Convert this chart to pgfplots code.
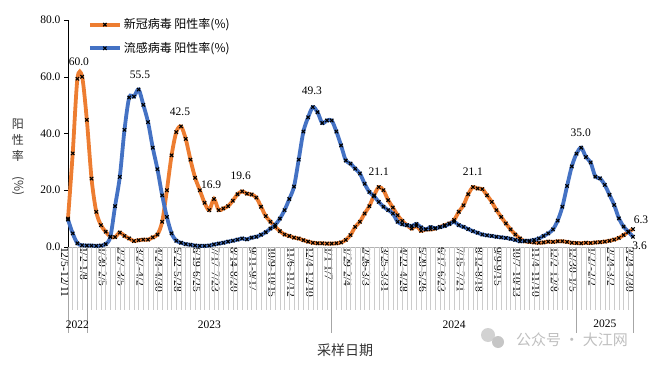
\documentclass[border=0pt]{standalone}
\usepackage{pgfplots}
\pgfplotsset{compat=1.18}
\usepackage{pgfplotstable}
\usepackage{fontspec}
\setmainfont{Liberation Serif}
\newfontfamily\cjk{Noto Sans CJK SC}
\definecolor{cov}{HTML}{ED7D31}
\definecolor{flu}{HTML}{4472C4}
\pgfplotstableread{
i cov flu
0 10.0 9.7
1 33.0 4.8
2 59.3 1.3
3 60.0 0.6
4 44.8 0.5
5 24.1 0.5
6 12.4 0.4
7 7.7 0.5
8 5.4 1.0
9 3.6 3.6
10 3.5 14.4
11 5.1 24.7
12 3.9 41.3
13 3.0 52.7
14 2.1 53.0
15 2.4 55.5
16 2.6 50.1
17 2.6 44.0
18 3.4 35.0
19 4.4 27.4
20 8.9 18.2
21 20.0 10.6
22 32.3 4.8
23 40.5 2.2
24 42.5 1.5
25 38.1 1.0
26 30.8 0.8
27 24.4 0.5
28 20.0 0.4
29 15.6 0.4
30 13.0 0.5
31 16.9 0.9
32 13.0 1.2
33 13.6 1.5
34 14.4 1.9
35 16.3 2.2
36 18.6 2.6
37 19.6 3.0
38 18.8 2.7
39 18.5 3.3
40 17.4 3.6
41 14.2 4.3
42 10.9 5.2
43 8.9 6.5
44 7.1 7.8
45 5.6 10.0
46 4.4 13.0
47 3.9 16.9
48 3.3 21.3
49 3.0 30.8
50 2.4 40.7
51 1.9 45.7
52 1.5 49.3
53 1.3 47.5
54 1.3 43.7
55 1.2 44.6
56 1.2 44.6
57 1.3 40.7
58 1.6 35.8
59 2.5 30.5
60 4.2 29.4
61 7.1 27.6
62 8.9 25.9
63 11.8 22.3
64 14.4 19.4
65 18.2 17.9
66 21.1 15.9
67 20.0 14.2
68 16.5 13.0
69 13.9 11.8
70 11.2 8.9
71 9.2 8.0
72 7.7 7.7
73 6.5 7.4
74 7.4 8.1
75 5.7 6.9
76 6.2 6.2
77 6.2 7.0
78 6.5 6.6
79 7.1 7.0
80 7.7 7.4
81 8.3 8.1
82 9.5 8.9
83 12.4 7.7
84 14.7 7.1
85 18.6 6.3
86 21.1 5.6
87 20.6 5.0
88 20.4 4.4
89 18.2 4.1
90 15.9 3.9
91 13.0 3.6
92 10.6 3.4
93 8.3 3.2
94 6.2 2.9
95 4.4 2.5
96 3.0 2.0
97 2.0 2.2
98 1.8 2.2
99 1.6 2.5
100 1.5 3.0
101 1.6 3.9
102 1.9 4.8
103 1.8 6.2
104 2.0 9.3
105 2.0 14.2
106 1.8 21.5
107 1.5 28.4
108 1.4 32.9
109 1.3 35.0
110 1.5 31.7
111 1.4 29.8
112 1.6 24.8
113 1.7 24.2
114 1.9 21.9
115 2.2 18.4
116 2.6 14.8
117 3.2 10.1
118 4.2 7.2
119 5.3 5.4
120 6.3 3.6
}\data
\begin{document}
\begin{tikzpicture}
\begin{axis}[
  scale only axis, width=565pt, height=227pt,
  xmin=0, xmax=120, ymin=0, ymax=80,
  axis x line*=bottom, axis y line*=left,
  axis line style={-},
  x axis line style={draw=gray!60},
  y axis line style={draw=black},
  clip=false,
  /pgf/number format/assume math mode=true,
  tick label style={font=\fontsize{11.5}{11.5}\selectfont},
  ytick={0,20,40,60,80},
  yticklabel style={/pgf/number format/fixed, /pgf/number format/fixed zerofill, /pgf/number format/precision=1},
  ytick align=outside, y tick style={black, thin}, major tick length=4pt,
  xtick align=inside, x tick style={draw=none},
  xtick={0,4,...,120},
  xticklabels={12/5-12/11,1/2-1/8,1/30-2/5,2/27-3/5,3/27-4/2,4/24-4/30,5/22-5/28,6/19-6/25,7/17-7/23,8/14-8/20,9/11-9/17,10/9-10/15,11/6-11/12,12/4-12/10,1/1-1/7,1/29-2/4,2/26-3/3,3/25-3/31,4/22-4/28,5/20-5/26,6/17-6/23,7/15-7/21,8/12-8/18,9/9-9/15,10/7-10/13,11/4-11/10,12/2-12/8,12/30-1/5,1/27-2/2,2/24-3/2,3/24-3/30},
  x tick label style={rotate=-90, anchor=west, inner sep=0pt, yshift=-3pt, font=\fontsize{11.5}{11.5}\selectfont},
  legend style={draw=none, fill=none, at={(axis description cs:0.035,1.015)}, anchor=north west, row sep=8pt, inner sep=0pt, font=\cjk\fontsize{12}{14}\selectfont},
  legend cell align=left,
  legend image code/.code={\draw[mark repeat=2,mark phase=2,#1] plot coordinates {(0pt,0pt) (15pt,0pt) (30pt,0pt)};},
]
\pgfplotsinvokeforeach{0,...,120}{\draw[gray!40, line width=0.5pt] (axis cs:#1,0) -- ++(0pt,-63pt);}
\pgfplotsinvokeforeach{0,4,56,108,120}{\draw[gray!70, line width=0.6pt] (axis cs:#1,0) -- ++(0pt,-86pt);}
\addplot[cov, line width=3.8pt, smooth, tension=0.5, mark=x, mark size=2.4pt, mark options={black, line width=1.1pt, solid}] table[x=i, y=cov]{\data};
\addlegendentry{新冠病毒 阳性率(\%)}
\addplot[flu, line width=3.8pt, smooth, tension=0.5, mark=x, mark size=2.4pt, mark options={black, line width=1.1pt, solid}] table[x=i, y=flu]{\data};
\addlegendentry{流感病毒 阳性率(\%)}
\coordinate (O) at (rel axis cs:0,0);
\begin{scope}[every node/.style={font=\fontsize{11.5}{11.5}\selectfont}]
\node at (axis cs:2.3,65.4) {60.0};
\node at (axis cs:15.3,60.8) {55.5};
\node at (axis cs:23.8,47.5) {42.5};
\node at (axis cs:30.4,21.9) {16.9};
\node at (axis cs:36.7,25.1) {19.6};
\node at (axis cs:51.8,54.9) {49.3};
\node at (axis cs:66.0,26.6) {21.1};
\node at (axis cs:86.0,26.6) {21.1};
\node at (axis cs:108.9,40.4) {35.0};
\node at (axis cs:121.7,9.5) {6.3};
\node at (axis cs:121.4,0.3) {3.6};
\end{scope}
\node[font=\fontsize{11.5}{11.5}\selectfont] at (axis cs:2,0) [yshift=-78pt] {2022};
\node[font=\fontsize{11.5}{11.5}\selectfont] at (axis cs:30,0) [yshift=-78pt] {2023};
\node[font=\fontsize{11.5}{11.5}\selectfont] at (axis cs:82,0) [yshift=-78pt] {2024};
\node[font=\fontsize{11.5}{11.5}\selectfont] at (axis cs:114,0) [yshift=-77pt] {2025};
\end{axis}
\node[font=\cjk\fontsize{12}{16}\selectfont, align=center, inner sep=0pt, text=black!80] at ([xshift=-50pt, yshift=90pt]O) {阳\\性\\率\\\rotatebox{-90}{(\%)}};
\node[font=\cjk\fontsize{14}{14}\selectfont, text=black!80] at ([xshift=277pt, yshift=-103pt]O) {采样日期};
\fill[gray!35] ([xshift=420pt, yshift=-88pt]O) circle (7pt);
\fill[gray!45] ([xshift=430pt, yshift=-95pt]O) circle (6pt);
\node[font=\cjk\fontsize{15}{15}\selectfont, text=gray!50] at ([xshift=504pt, yshift=-93pt]O) {公众号 · 大江网};
\pgfresetboundingbox
\path ([xshift=-68pt, yshift=-120pt]O) rectangle ++(658pt,367pt);
\end{tikzpicture}
\end{document}
